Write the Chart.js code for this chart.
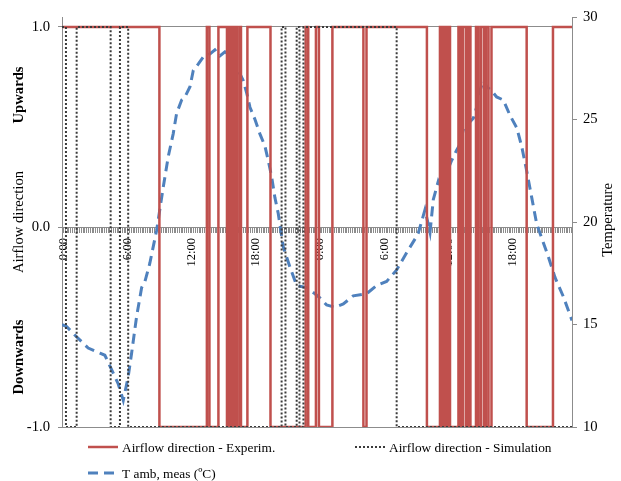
<!DOCTYPE html>
<html>
<head>
<meta charset="utf-8">
<script src="https://cdn.jsdelivr.net/npm/chart.js@4"></script>
<style>
html, body { margin: 0; padding: 0; background: #fff; }
#wrap { width: 621px; height: 481px; position: relative; }
</style>
</head>
<body>
<div id="wrap"><canvas id="airflowChart"></canvas></div>
<script>
// time in hours from 0:00 of day 1, direction 1 = upwards, -1 = downwards
const startHour = -0.15;
const endHour = 47.55;

const experimHours = [-0.15, 8.96, 13.40, 13.64, 14.48, 15.28, 15.46, 15.60, 15.79, 15.93,
    16.07, 16.21, 16.45, 16.59, 17.19, 19.35, 22.64, 22.88, 23.60, 23.88,
    25.14, 28.04, 28.33, 33.98, 35.20, 35.39, 35.58, 35.81, 36.00, 36.14,
    36.93, 37.16, 37.35, 37.63, 37.82, 38.05, 38.57, 38.80, 39.04, 39.32,
    39.50, 39.74, 40.02, 43.31, 45.77];
const experimDir = [1, -1, 1, -1, 1, -1, 1, -1, 1, -1,
    1, -1, 1, -1, 1, -1, 1, -1, 1, -1,
    1, -1, 1, -1, 1, -1, 1, -1, 1, -1,
    1, -1, 1, -1, 1, -1, 1, -1, 1, -1,
    1, -1, 1, -1, 1];

const simHours = [-0.15, 0.22, 1.22, 4.40, 5.27, 6.04, 20.39, 20.75, 21.80, 22.06, 22.43, 31.15];
const simDir = [1, -1, 1, -1, 1, -1, 1, -1, 1, -1, 1, -1];

const tempHours = [-0.15, 0.28, 1.21, 2.30, 3.40, 3.86, 4.49, 5.11, 5.58, 6.04,
    6.36, 6.83, 7.30, 7.61, 8.07, 8.70, 8.85, 9.32, 9.79, 10.25,
    10.57, 11.04, 11.35, 11.82, 12.13, 12.59, 13.06, 13.69, 14.15, 14.62,
    15.09, 15.56, 15.87, 16.33, 16.80, 17.12, 17.43, 17.90, 18.36, 18.83,
    19.14, 19.46, 19.76, 20.08, 20.54, 21.17, 21.80, 22.73, 23.51, 23.97,
    24.60, 25.38, 26.16, 27.09, 28.34, 29.28, 30.21, 31.15, 32.08, 33.02,
    33.17, 33.80, 34.27, 34.58, 35.05, 35.36, 35.83, 36.29, 36.76, 37.08,
    37.38, 37.85, 38.32, 38.63, 38.94, 39.26, 39.57, 40.04, 40.50, 41.13,
    41.75, 42.38, 42.84, 43.31, 43.78, 44.25, 44.56, 45.34, 45.96, 46.74,
    47.55];
const tempValues = [15.0, 14.9, 14.4, 13.85, 13.6, 13.5, 12.8, 12.1, 11.3, 12.45,
    13.6, 15.4, 16.8, 17.1, 18.0, 19.6, 20.1, 21.7, 23.2, 24.3,
    25.3, 25.95, 26.1, 26.6, 27.4, 27.7, 28.05, 28.2, 28.4, 28.1,
    28.3, 28.15, 27.9, 27.4, 26.9, 26.3, 25.6, 25.0, 24.3, 23.7,
    23.0, 22.2, 21.2, 20.4, 18.8, 17.8, 16.9, 16.8, 16.5, 16.3,
    15.95, 15.84, 16.0, 16.4, 16.5, 16.9, 17.1, 17.66, 18.5, 19.3,
    19.45, 20.6, 19.5, 21.1, 22.0, 21.7, 22.4, 23.0, 23.5, 23.8,
    24.5, 24.8, 25.06, 25.6, 26.4, 26.9, 26.6, 26.4, 26.1, 25.95,
    25.2, 24.6, 23.7, 22.5, 21.2, 19.9, 19.45, 18.3, 17.3, 16.36,
    15.2];

const hourLabels = [0, 6, 12, 18, 24, 30, 36, 42];
const dirTicks = [-1, 0, 1];
const tempTicks = [10, 15, 20, 25, 30];

const axisGray = "#8c8c8c";
const serif = '"Liberation Serif", "Times New Roman", serif';
Chart.defaults.font.family = serif;
Chart.defaults.color = "#000";

function stepPoints(hours, dir){
    const pts = hours.map((h, i) => ({x: h, y: dir[i]}));
    pts.push({x: endHour, y: dir[dir.length - 1]});
    return pts;
}

// small tick marks every 10 minutes along the zero line
function minorTicks(){
    const t = [];
    for(let m = 0; m <= endHour * 60; m += 10){
        t.push({value: m / 60});
    }
    return t;
}

const extraText = {
    id: "extraText",
    afterDraw(chart){
        const ctx = chart.ctx;
        const y = chart.scales.y;
        const y1 = chart.scales.y1;

        ctx.save();
        ctx.fillStyle = "#000";
        ctx.textAlign = "center";
        ctx.textBaseline = "middle";

        function rotated(text, x, yy){
            ctx.save();
            ctx.translate(x, yy);
            ctx.rotate(-Math.PI / 2);
            ctx.fillText(text, 0, 0);
            ctx.restore();
        }

        ctx.font = "bold 14.67px " + serif;
        rotated("Upwards", 19, y.getPixelForValue(0.66));
        rotated("Downwards", 19, y.getPixelForValue(-0.65));

        ctx.font = "14.67px " + serif;
        rotated("Temperature", 608, y1.getPixelForValue(20.1));

        // legend
        const spots = [[88, 447], [355, 447], [88, 473]];
        ctx.font = "13.33px " + serif;
        ctx.textAlign = "left";
        chart.data.datasets.forEach((ds, i) => {
            const [lx, ly] = spots[i];
            ctx.save();
            ctx.strokeStyle = ds.borderColor;
            ctx.lineWidth = ds.borderWidth;
            ctx.setLineDash(ds.borderDash || []);
            ctx.beginPath();
            ctx.moveTo(lx, ly);
            ctx.lineTo(lx + 30, ly);
            ctx.stroke();
            ctx.restore();
            ctx.fillText(ds.label, lx + 34, ly + 1);
        });

        ctx.restore();
    }
};

const chart = new Chart(document.getElementById("airflowChart"), {
    type: "line",
    data: {
        datasets: [
            {
                label: "Airflow direction - Experim.",
                data: stepPoints(experimHours, experimDir),
                borderColor: "#c0504d",
                borderWidth: 2.5,
                stepped: true,
                pointRadius: 0,
                yAxisID: "y",
                order: 1
            },
            {
                label: "Airflow direction - Simulation",
                data: stepPoints(simHours, simDir),
                borderColor: "#3a3a3a",
                borderWidth: 2,
                borderDash: [2, 2],
                stepped: true,
                pointRadius: 0,
                yAxisID: "y",
                order: 0
            },
            {
                label: "T amb, meas (ºC)",
                data: tempHours.map((h, i) => ({x: h, y: tempValues[i]})),
                borderColor: "#4f81bd",
                borderWidth: 3,
                borderDash: [10, 6],
                pointRadius: 0,
                tension: 0,
                yAxisID: "y1",
                order: 2
            }
        ]
    },
    options: {
        responsive: true,
        maintainAspectRatio: false,
        animation: false,
        layout: {
            padding: {top: 17, bottom: 54, left: 0, right: 0}
        },
        plugins: {
            legend: {display: false},
            tooltip: {enabled: false}
        },
        scales: {
            x: {
                type: "linear",
                min: startHour,
                max: endHour,
                position: {y: 0},
                afterBuildTicks: s => { s.ticks = minorTicks(); },
                ticks: {
                    autoSkip: false,
                    minRotation: 90,
                    maxRotation: 90,
                    padding: 6,
                    font: {size: 12.5},
                    callback: v => {
                        const h = Math.round(v * 60) / 60;
                        return hourLabels.includes(h) ? (h % 24) + ":00" : "";
                    }
                },
                grid: {drawOnChartArea: false, tickLength: 5, color: axisGray},
                border: {color: axisGray}
            },
            y: {
                min: -1,
                max: 1.05,
                afterBuildTicks: s => { s.ticks = dirTicks.map(v => ({value: v})); },
                ticks: {
                    padding: 8,
                    font: {size: 14.67},
                    callback: v => v.toFixed(1)
                },
                grid: {color: axisGray, tickLength: 4},
                border: {color: axisGray},
                title: {
                    display: true,
                    text: "Airflow direction",
                    font: {size: 14.67},
                    padding: {top: 10, bottom: 0}
                },
                afterFit: s => { s.width = 62; }
            },
            y1: {
                position: "right",
                min: 10,
                max: 30,
                afterBuildTicks: s => { s.ticks = tempTicks.map(v => ({value: v})); },
                ticks: {padding: 6, font: {size: 14.67}},
                grid: {drawOnChartArea: false, tickLength: 5, color: axisGray},
                border: {color: axisGray},
                afterFit: s => { s.width = 49; }
            }
        }
    },
    plugins: [extraText]
});
</script>
</body>
</html>
